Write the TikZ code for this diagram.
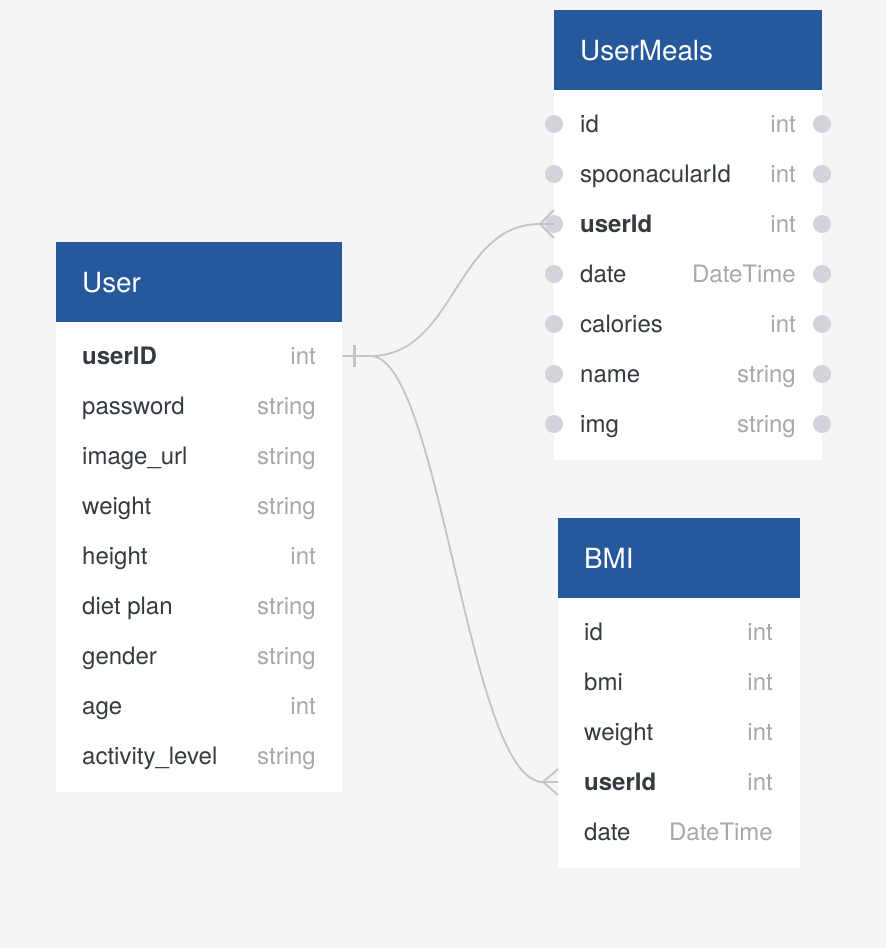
\documentclass[tikz,border=0pt]{standalone}
\usepackage{fontspec}
\setmainfont{TeX Gyre Heros}
\usepackage{xcolor}
\usetikzlibrary{positioning, calc}
\definecolor{canvasgrey}{RGB}{244,245,244}
\definecolor{headblue}{RGB}{37,89,155}
\definecolor{fielddark}{RGB}{52,58,64}
\definecolor{typegrey}{RGB}{168,168,170}
\definecolor{portgrey}{RGB}{211,212,219}
\definecolor{linegrey}{RGB}{196,196,196}
\tikzstyle{head} = [rectangle, fill=headblue, anchor=north west, minimum height=80pt, inner sep=0pt]
\tikzstyle{body} = [rectangle, fill=white, anchor=north west, inner sep=0pt]
\tikzstyle{title} = [text=white, font=\fontsize{27.8}{30}\selectfont, anchor=west, inner sep=0pt, text height=20pt, text depth=0pt]
\tikzstyle{field} = [text=fielddark, font=\fontsize{24}{27}\selectfont, anchor=west, inner sep=0pt, text height=16pt, text depth=0pt]
\tikzstyle{ftype} = [field, text=typegrey, anchor=east]
\tikzstyle{port} = [circle, fill=portgrey, minimum size=18pt, inner sep=0pt]
\tikzstyle{line} = [draw=linegrey, line width=1.8pt]

\begin{document}
\begin{tikzpicture}[x=1pt, y=-1pt]
    % Canvas
    \fill [canvasgrey] (0,0) rectangle (886,948);
    \useasboundingbox (0,0) rectangle (886,948);

    % User
    \node [head, minimum width=286pt] (userhead) at (56,242) {};
    \node [body, minimum width=286pt, minimum height=470pt] (userbody) at (56,322) {};
    \node [title] (usertitle) at (82,282) {User};
    \foreach \name/\kind [count=\i] in {\textbf{userID}/int, password/string, image\_url/string, weight/string, height/int, diet plan/string, gender/string, age/int, activity\_level/string} {
        \node [field] (user-f\i) at (82,306+50*\i) {\name};
        \node [ftype] (user-t\i) at (316,306+50*\i) {\kind};
    }

    % UserMeals
    \node [head, minimum width=268pt] (mealshead) at (554,10) {};
    \node [body, minimum width=268pt, minimum height=370pt] (mealsbody) at (554,90) {};
    \node [title] (mealstitle) at (580,50) {UserMeals};
    \foreach \name/\kind [count=\i] in {id/int, spoonacularId/int, \textbf{userId}/int, date/DateTime, calories/int, name/string, img/string} {
        \node [port] (meals-pl\i) at (554,74+50*\i) {};
        \node [port] (meals-pr\i) at (822,74+50*\i) {};
        \node [field] (meals-f\i) at (580,74+50*\i) {\name};
        \node [ftype] (meals-t\i) at (796,74+50*\i) {\kind};
    }

    % BMI
    \node [head, minimum width=242pt] (bmihead) at (558,518) {};
    \node [body, minimum width=242pt, minimum height=270pt] (bmibody) at (558,598) {};
    \node [title] (bmititle) at (584,558) {BMI};
    \foreach \name/\kind [count=\i] in {id/int, bmi/int, weight/int, \textbf{userId}/int, date/DateTime} {
        \node [field] (bmi-f\i) at (584,582+50*\i) {\name};
        \node [ftype] (bmi-t\i) at (773,582+50*\i) {\kind};
    }

    % Lines
    \coordinate (split) at ($(userbody.east |- user-f1)+(28,0)$);
    \coordinate (mealsfoot) at ($(meals-pl3.center)+(-14,0)$);
    \coordinate (bmifoot) at ($(bmibody.west |- bmi-f4)+(-15,0)$);
    \path [line] (userbody.east |- user-f1) -- (split) .. controls +(85,0) and +(-85,0) .. (mealsfoot) -- (meals-pl3.center);
    \path [line] (split) .. controls +(70,0) and +(-75,0) .. (bmifoot) -- (bmibody.west |- bmi-f4);
    \path [line, line width=2.2pt] ($(userbody.east |- user-f1)+(12,-11)$) -- ++(0,22);
    \path [line] (mealsfoot) -- ($(meals-pl3.center)+(0,-14)$) (mealsfoot) -- ($(meals-pl3.center)+(0,14)$);
    \path [line] (bmifoot) -- ($(bmibody.west |- bmi-f4)+(0,-13)$) (bmifoot) -- ($(bmibody.west |- bmi-f4)+(0,13)$);

\end{tikzpicture}
\end{document}
